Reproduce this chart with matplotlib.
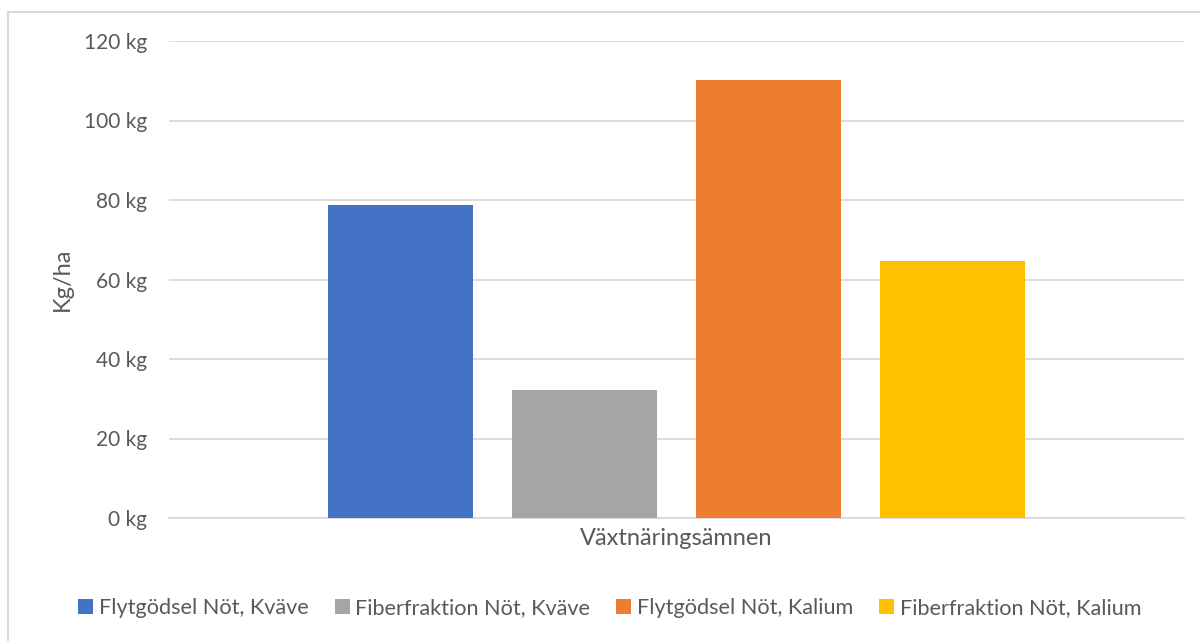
import matplotlib
matplotlib.use("Agg")
import matplotlib.pyplot as plt
from matplotlib.patches import Rectangle, Patch

category = "Växtnäringsämnen"
series = ["Flytgödsel Nöt, Kväve", "Fiberfraktion Nöt, Kväve",
          "Flytgödsel Nöt, Kalium", "Fiberfraktion Nöt, Kalium"]
values = [78.8, 32.2, 110.2, 64.7]
colors = ["#4472C4", "#A5A5A5", "#ED7D31", "#FFC000"]
yticks = [0, 20, 40, 60, 80, 100, 120]
ytick_labels = [f"{v} kg" for v in yticks]

plt.rcParams['font.family'] = ['Lato', 'DejaVu Sans']
txt = "#595959"
grid = "#D9D9D9"

fig = plt.figure(figsize=(12, 6.41), dpi=100)
ax = fig.add_axes([169/1200, 1-518/641, (1184-169)/1200, (518-41)/641])

x = list(range(len(values)))
ax.bar(x, values, width=0.79, color=colors, zorder=3)
ax.set_xlim(-1.26, 4.26)
ax.set_ylim(0, 120)
ax.set_yticks(yticks)
ax.set_yticklabels(ytick_labels, color=txt, fontsize=15)
ax.set_xticks([1.5])
ax.set_xticklabels([category], color=txt, fontsize=17)
ax.tick_params(axis='both', length=0)
ax.tick_params(axis='y', pad=16)
ax.tick_params(axis='x', pad=7)
ax.yaxis.grid(True, color=grid, linewidth=1.3, zorder=0)
for s in ["top", "right", "left"]:
    ax.spines[s].set_visible(False)
ax.spines["bottom"].set_color(grid)
ax.spines["bottom"].set_linewidth(1.3)
ax.set_ylabel("Kg/ha", color=txt, fontsize=17)
ax.yaxis.set_label_coords(-(169-73)/1015, 0.5)

fig.patches.append(Rectangle((8/1200, -0.05), 1.1, 1-12/641+0.05,
                             transform=fig.transFigure, fill=False,
                             edgecolor=grid, linewidth=1.5, clip_on=False))

handles = [Patch(facecolor=c, edgecolor='none') for c in colors]
leg = fig.legend(handles, series, loc="center", bbox_to_anchor=(0.508, 1-608/641),
                 ncol=4, frameon=False, fontsize=15.6, handlelength=0.7,
                 handleheight=0.7, handletextpad=0.25, columnspacing=1.2)
for t in leg.get_texts():
    t.set_color(txt)

fig.savefig("out.png", dpi=100)
